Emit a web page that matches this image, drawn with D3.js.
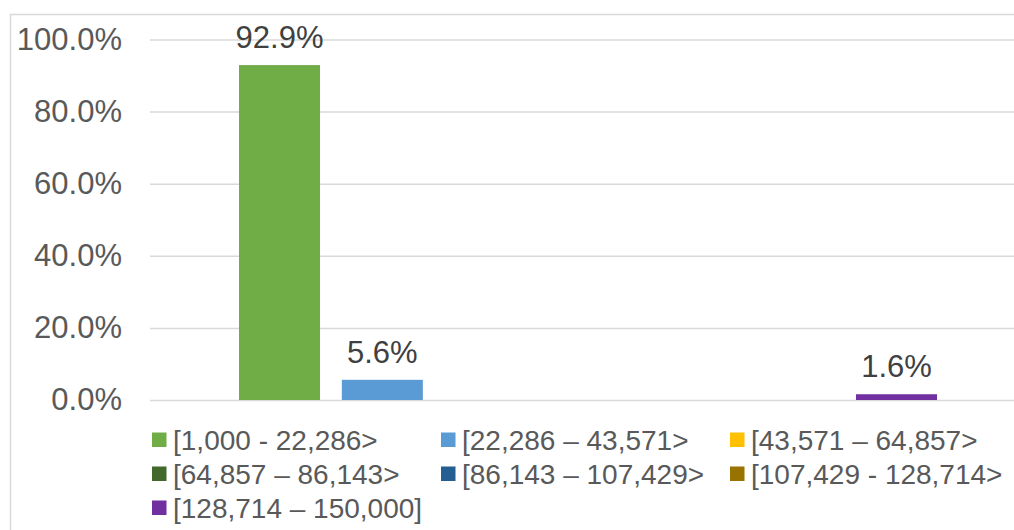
<!DOCTYPE html>
<html>
<head>
<meta charset="utf-8">
<script src="https://cdn.jsdelivr.net/npm/d3@7"></script>
<style>
  body { margin: 0; background: #fff; }
  svg { display: block; font-family: "Liberation Sans", Arial, sans-serif; }
</style>
</head>
<body>
<script>
let categories = [
    "[1,000 - 22,286>",
    "[22,286 – 43,571>",
    "[43,571 – 64,857>",
    "[64,857 – 86,143>",
    "[86,143 – 107,429>",
    "[107,429 - 128,714>",
    "[128,714 – 150,000]"
];
let shares = [92.9, 5.6, 0, 0, 0, 0, 1.6];
let colors = ["#70ad47", "#5b9bd5", "#ffc000", "#43682b", "#255e91", "#997300", "#7030a0"];
let yTicks = [0, 20, 40, 60, 80, 100];

let width = 1014, height = 530;
let svg = d3.select("body").append("svg").attr("width", width).attr("height", height);

// chart area border, runs off the right/bottom edge like the source
svg.append("rect")
    .attr("x", 10.5).attr("y", 14.5)
    .attr("width", 1100).attr("height", 600)
    .attr("fill", "none").attr("stroke", "#d9d9d9").attr("stroke-width", 1.5);

let y = d3.scaleLinear().domain([0, 100]).range([400, 39.5]);
let x = d3.scaleBand().domain(categories).range([239, 937]).paddingInner(0.212).paddingOuter(0);

/* gridlines + tick labels via axis generator */
let yAxis = d3.axisLeft(y)
    .tickValues(yTicks)
    .tickSize(-(1100 - 150))
    .tickPadding(28)
    .tickFormat(d => d3.format(".1f")(d) + "%");

let axisG = svg.append("g").attr("transform", "translate(150,0)").call(yAxis);
axisG.select(".domain").remove();
axisG.selectAll(".tick line").attr("stroke", "#d9d9d9").attr("stroke-width", 1.5);
axisG.selectAll(".tick text")
    .attr("fill", "#595959")
    .attr("font-size", "31px")
    .attr("font-family", "Liberation Sans, Arial, sans-serif");

let data = categories.map((c, i) => ({cat: c, v: shares[i], color: colors[i]}));

svg.selectAll("rect.bar")
    .data(data)
    .enter().append("rect")
        .attr("class", "bar")
        .attr("x", d => x(d.cat))
        .attr("y", d => y(d.v))
        .attr("width", x.bandwidth())
        .attr("height", d => y(0) - y(d.v))
        .attr("fill", d => d.color);

svg.selectAll("text.val")
    .data(data.filter(d => d.v > 0))
    .enter().append("text")
        .attr("class", "val")
        .attr("x", d => x(d.cat) + x.bandwidth() / 2)
        .attr("y", d => y(d.v) - 17)
        .attr("text-anchor", "middle")
        .attr("fill", "#404040")
        .attr("font-size", "31px")
        .text(d => d.v.toFixed(1) + "%");

// legend, 3 columns
let legend = svg.append("g");
let items = legend.selectAll("g.item")
    .data(data)
    .enter().append("g")
        .attr("class", "item")
        .attr("transform", (d, i) => `translate(${152 + (i % 3) * 289},${440 + Math.floor(i / 3) * 34})`);

items.append("rect")
    .attr("x", 0).attr("y", -7.5)
    .attr("width", 14.5).attr("height", 14.5)
    .attr("fill", d => d.color);

items.append("text")
    .attr("x", 21)
    .attr("dy", "0.36em")
    .attr("fill", "#595959")
    .attr("font-size", "28px")
    .text(d => d.cat);
</script>
</body>
</html>
